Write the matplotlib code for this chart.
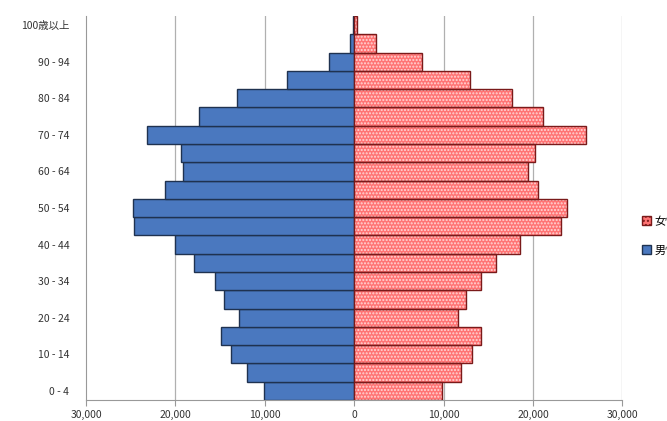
import matplotlib.pyplot as plt
import numpy as np
from matplotlib.patches import Patch

plt.rcParams['font.family'] = ['Noto Sans CJK JP', 'DejaVu Sans']

# age groups, bottom to top
ages = ['0 - 4', '5 - 9', '10 - 14', '15 - 19', '20 - 24', '25 - 29', '30 - 34',
        '35 - 39', '40 - 44', '45 - 49', '50 - 54', '55 - 59', '60 - 64',
        '65 - 69', '70 - 74', '75 - 79', '80 - 84', '85 - 89', '90 - 94',
        '95 - 99', '100歳以上']
male = [10100, 12000, 13800, 14900, 12900, 14600, 15600, 17900, 20100, 24600,
        24700, 21200, 19200, 19400, 23200, 17400, 13100, 7500, 2800, 500, 80]
female = [9800, 11900, 13200, 14200, 11600, 12500, 14200, 15900, 18600, 23100,
          23800, 20600, 19500, 20200, 25900, 21100, 17700, 13000, 7600, 2400, 300]
xticks = [-30000, -20000, -10000, 0, 10000, 20000, 30000]

fig = plt.figure(figsize=(6.67, 4.21), dpi=100)
ax = fig.add_axes([0.129, 0.05, 0.804, 0.912])

y = np.arange(len(ages))
m = -np.array(male)
f = np.array(female)

# vertical grid lines behind the bars
for t in xticks[1:]:
    ax.axvline(t, color='#b0b0b0', lw=0.9, zorder=0)

ax.barh(y, m, height=1.0, color='#4a78bf', edgecolor='#1f3250', lw=1.0,
        zorder=2, label='男性')
# female bars: dotted fill, then outline
ax.barh(y, f, height=1.0, color='#ff7474', edgecolor='#ffd6d6', lw=0,
        hatch='.....', zorder=2)
ax.barh(y, f, height=1.0, fill=False, edgecolor='#7a1a1a', lw=1.0, zorder=3)

ax.set_xlim(-30000, 30000)
ax.set_ylim(-0.5, len(ages) - 0.5)
ax.set_xticks(xticks)
ax.set_xticklabels([f'{abs(t):,}' for t in xticks], fontsize=7.5, color='#333333')
ax.set_yticks(y[::2])
ax.set_yticklabels(ages[::2], fontsize=7.5, color='#333333')
ax.tick_params(axis='y', length=0, pad=12)
ax.tick_params(axis='x', length=4, color='#999999', pad=3)

for s in ['top', 'right']:
    ax.spines[s].set_visible(False)
ax.spines['left'].set_color('#999999')
ax.spines['bottom'].set_color('#999999')

# legend (cut by the right edge as in the original)
handles = [Patch(facecolor='#ff7474', edgecolor='#7a1a1a', hatch='....'),
           Patch(facecolor='#4a78bf', edgecolor='#1f3250')]
fig.legend(handles, ['女性', '男性'], loc='center left',
           bbox_to_anchor=(0.948, 0.44), frameon=False, fontsize=8,
           handlelength=0.8, handleheight=0.8, handletextpad=0.3, labelspacing=1.7)

fig.savefig('out.png', dpi=100)
